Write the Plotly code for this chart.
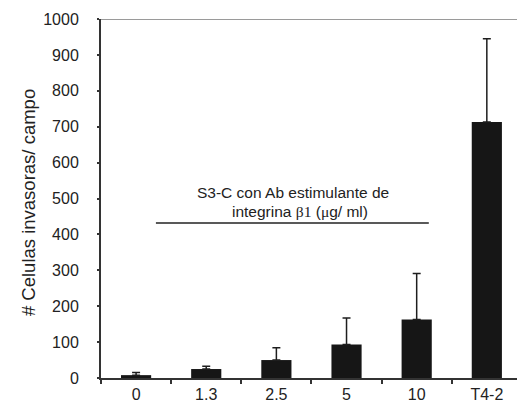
import plotly.graph_objects as go

categories = ["0", "1.3", "2.5", "5", "10", "T4-2"]
values = [8, 25, 50, 93, 163, 713]
errors_up = [7, 8, 34, 74, 128, 232]
y_ticks = [0, 100, 200, 300, 400, 500, 600, 700, 800, 900, 1000]
y_title = "# Celulas invasoras/ campo"
note_line1 = "S3-C con Ab estimulante de"
note_line2 = ("integrina <span style='font-family:Liberation Serif'>β1</span> "
              "(<span style='font-family:Liberation Serif'>μ</span>g/ ml)")
note_level = 432

FONT = "Liberation Sans, Arial, sans-serif"

fig = go.Figure()
fig.add_trace(go.Bar(
    x=categories, y=values,
    width=0.43,
    marker=dict(color="#161616", line=dict(width=0)),
    error_y=dict(type="data", symmetric=False, array=errors_up,
                 arrayminus=[0] * len(values),
                 color="#1e1e1e", thickness=1.5, width=4),
))

fig.update_layout(
    width=517, height=412,
    margin=dict(l=101, r=0, t=19, b=34),
    plot_bgcolor="white", paper_bgcolor="white",
    showlegend=False,
    font=dict(family=FONT, size=16, color="#222"),
)
fig.update_xaxes(
    type="category", range=[-0.5, 5.43],
    showline=True, linecolor="#333", linewidth=2,
    ticks="outside", tickson="boundaries", ticklen=4, tickwidth=2, tickcolor="#333",
    ticklabelstandoff=1,
    showgrid=False, zeroline=False,
    tickfont=dict(family=FONT, size=16, color="#222"),
)
fig.update_yaxes(
    range=[0, 1000], tickvals=y_ticks,
    showline=True, linecolor="#333", linewidth=2,
    ticks="outside", ticklen=2, tickwidth=2, tickcolor="#333",
    ticklabelstandoff=15,
    showgrid=False, zeroline=False,
    tickfont=dict(family=FONT, size=16, color="#222"),
)

# gray top border line
fig.add_shape(type="line", xref="paper", yref="y", x0=0, x1=1, y0=1000, y1=1000,
              line=dict(color="#9a9a9a", width=2))
# annotation underline
fig.add_shape(type="line", xref="paper", yref="y", x0=0.132, x1=0.788,
              y0=note_level, y1=note_level, line=dict(color="#222", width=1.5))

fig.add_annotation(text=note_line1, xref="paper", yref="y", x=0.462, y=note_level,
                   yshift=30, showarrow=False, xanchor="center",
                   font=dict(family=FONT, size=15.5, color="#222"))
fig.add_annotation(text=note_line2, xref="paper", yref="y", x=0.478, y=note_level,
                   yshift=11, showarrow=False, xanchor="center",
                   font=dict(family=FONT, size=15.5, color="#222"))
fig.add_annotation(text=y_title, xref="paper", yref="paper", x=-0.1755, y=0.49,
                   xanchor="center", yanchor="middle",
                   textangle=-90, showarrow=False, font=dict(family=FONT, size=18.5, color="#222"))

fig.write_html("out.html")
